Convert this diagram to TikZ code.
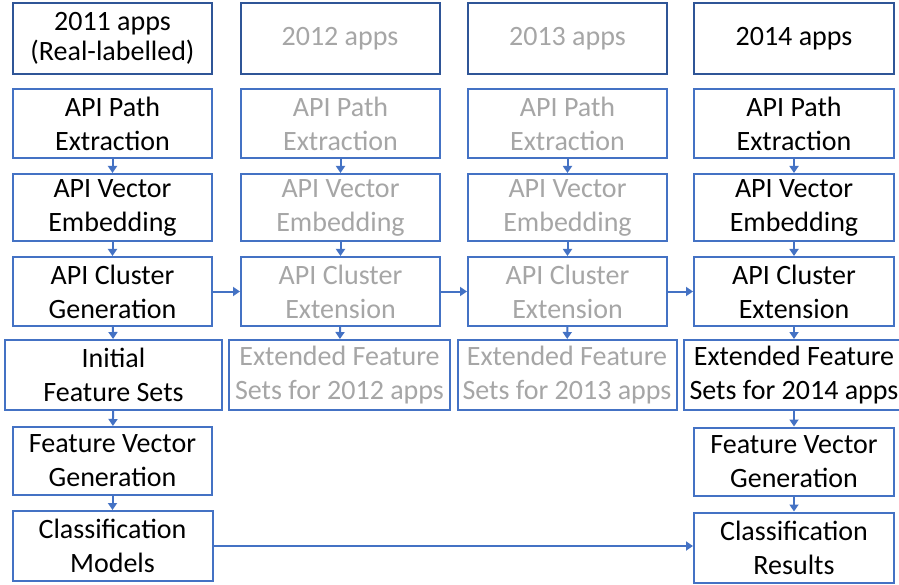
\documentclass[tikz,border=0pt]{standalone}
\usepackage{fontspec}
\setmainfont{Carlito}
\usetikzlibrary{arrows.meta}
\definecolor{boxblue}{HTML}{4472C4}
\definecolor{darkblue}{HTML}{2F5597}
\definecolor{txtgray}{HTML}{A6A6A6}
\tikzset{
  box/.style={draw=boxblue, line width=2pt, fill=white, align=center, inner sep=0pt,
    font=\fontsize{28}{34}\selectfont, text=black},
  gbox/.style={box, text=txtgray},
  topbox/.style={box, draw=darkblue},
  gtopbox/.style={topbox, text=txtgray},
  arr/.style={draw=boxblue, line width=2pt, -{Triangle[length=7pt,width=9pt]}},
}
\begin{document}
\begin{tikzpicture}[x=1pt,y=-1pt]
\useasboundingbox (0,0) rectangle (899,585);
% top row
\node[topbox, minimum width=199pt, minimum height=71pt, font=\fontsize{28}{30}\selectfont] (c1r0) at (112.5,38.5) {2011 apps\\(Real-labelled)};
\node[gtopbox, minimum width=199pt, minimum height=71pt] (c2r0) at (340,38.5) {2012 apps};
\node[gtopbox, minimum width=199pt, minimum height=71pt] (c3r0) at (567.5,38.5) {2013 apps};
\node[topbox, minimum width=200pt, minimum height=71pt] (c4r0) at (794,38.5) {2014 apps};
% row 1
\node[box, minimum width=199pt, minimum height=69pt] (c1r1) at (112.5,123.5) {API Path\\Extraction};
\node[gbox, minimum width=199pt, minimum height=69pt] (c2r1) at (340.5,123.5) {API Path\\Extraction};
\node[gbox, minimum width=199pt, minimum height=69pt] (c3r1) at (567.5,123.5) {API Path\\Extraction};
\node[box, minimum width=200pt, minimum height=69pt] (c4r1) at (794,123.5) {API Path\\Extraction};
% row 2
\node[box, minimum width=199pt, minimum height=67pt] (c1r2) at (112.5,207.5) {API Vector\\Embedding};
\node[gbox, minimum width=199pt, minimum height=67pt] (c2r2) at (340.5,207.5) {API Vector\\Embedding};
\node[gbox, minimum width=199pt, minimum height=67pt] (c3r2) at (567.5,207.5) {API Vector\\Embedding};
\node[box, minimum width=200pt, minimum height=67pt] (c4r2) at (794,207.5) {API Vector\\Embedding};
% row 3
\node[box, minimum width=199pt, minimum height=69pt] (c1r3) at (112.5,291.5) {API Cluster\\Generation};
\node[gbox, minimum width=199pt, minimum height=69pt] (c2r3) at (340.5,291.5) {API Cluster\\Extension};
\node[gbox, minimum width=199pt, minimum height=69pt] (c3r3) at (567.5,291.5) {API Cluster\\Extension};
\node[box, minimum width=200pt, minimum height=69pt] (c4r3) at (794,291.5) {API Cluster\\Extension};
% row 4
\node[box, minimum width=217pt, minimum height=70pt] (c1r4) at (113.5,375) {Initial\\Feature Sets};
\node[gbox, minimum width=221pt, minimum height=70pt] (c2r4) at (339.5,375) {Extended Feature\\Sets for 2012 apps};
\node[gbox, minimum width=219pt, minimum height=70pt] (c3r4) at (567,375) {Extended Feature\\Sets for 2013 apps};
\node[box, minimum width=221pt, minimum height=70pt] (c4r4) at (794,375) {Extended Feature\\Sets for 2014 apps};
% row 5
\node[box, minimum width=199pt, minimum height=68pt] (c1r5) at (112.5,461) {Feature Vector\\Generation};
\node[box, minimum width=200pt, minimum height=68pt] (c4r5) at (794,461.5) {Feature Vector\\Generation};
% row 6
\node[box, minimum width=200pt, minimum height=70pt] (c1r6) at (112.5,546) {Classification\\Models};
\node[box, minimum width=200pt, minimum height=70pt] (c4r6) at (794,547.5) {Classification\\Results};
% vertical arrows
\foreach \c in {1,4} {
  \draw[arr] (c\c r1) -- (c\c r2);
  \draw[arr] (c\c r2) -- (c\c r3);
  \draw[arr] (c\c r3) -- (c\c r4);
  \draw[arr] (c\c r4) -- (c\c r5);
  \draw[arr] (c\c r5) -- (c\c r6);
}
\foreach \c in {2,3} {
  \draw[arr] (c\c r1) -- (c\c r2);
  \draw[arr] (c\c r2) -- (c\c r3);
  \draw[arr] (c\c r3) -- (c\c r4);
}
% horizontal arrows
\draw[arr] (c1r3.east) -- (c2r3.west);
\draw[arr] (c2r3.east) -- (c3r3.west);
\draw[arr] (c3r3.east) -- (c4r3.west);
\draw[arr] (c1r6.east) -- (c1r6.east -| c4r6.west);
\end{tikzpicture}
\end{document}
